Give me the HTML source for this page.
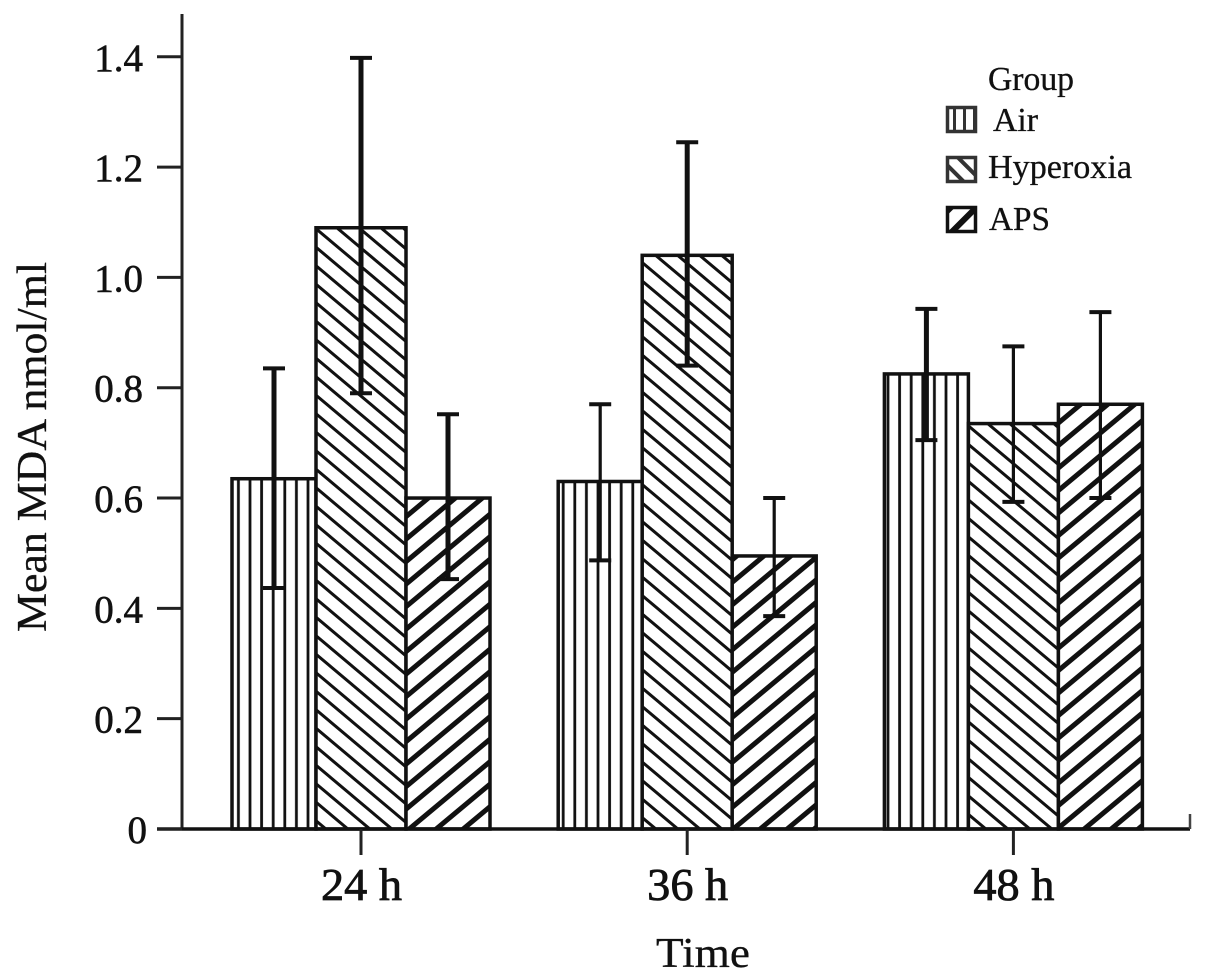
<!DOCTYPE html>
<html lang="en">
<head>
<meta charset="utf-8">
<title>Mean MDA by time and group</title>
<style>
html,body{margin:0;padding:0;background:#fff;width:1205px;height:980px;overflow:hidden}
svg{display:block}
text{font-family:"Liberation Serif",serif;fill:#111}
.tick{font-size:39px;stroke:#111;stroke-width:.6}
.xtick{font-size:46px;stroke:#111;stroke-width:.8}
.title{font-size:42px;stroke:#111;stroke-width:.3}
.leg{font-size:33.5px;stroke:#111;stroke-width:.3}
</style>
</head>
<body>
<svg id="chart" width="1205" height="980" viewBox="0 0 1205 980" xmlns="http://www.w3.org/2000/svg">
  <defs>
    <pattern id="p-air" patternUnits="userSpaceOnUse" width="11.6" height="20" x="232">
      <rect width="11.6" height="20" fill="#fff"/>
      <rect x="5" width="2.8" height="20" fill="#111"/>
    </pattern>
    <pattern id="p-hyp" patternUnits="userSpaceOnUse" width="22" height="18.5">
      <rect width="22" height="18.5" fill="#fff"/>
      <path d="M-22 -18.5L44 37M-22 0L22 37M0 -18.5L44 18.5" stroke="#111" stroke-width="3" fill="none"/>
    </pattern>
    <pattern id="p-aps" patternUnits="userSpaceOnUse" width="27" height="22.5">
      <rect width="27" height="22.5" fill="#fff"/>
      <path d="M-27 45L54 -22.5M-27 22.5L27 -22.5M0 45L54 0" stroke="#111" stroke-width="5" fill="none"/>
    </pattern>
    <pattern id="p-air-leg" patternUnits="userSpaceOnUse" width="10" height="20" x="947">
      <rect width="10" height="20" fill="#fff"/>
      <rect x="6" width="3" height="20" fill="#333"/>
    </pattern>
    <pattern id="p-hyp-leg" patternUnits="userSpaceOnUse" width="13" height="13" patternTransform="rotate(45)">
      <rect width="13" height="13" fill="#fff"/>
      <rect y="4" width="13" height="4" fill="#333"/>
    </pattern>
    <pattern id="p-aps-leg" patternUnits="userSpaceOnUse" width="18" height="18" patternTransform="rotate(-45)">
      <rect width="18" height="18" fill="#fff"/>
      <rect y="6" width="18" height="6" fill="#111"/>
    </pattern>
  </defs>
  <g id="bars"></g>
  <g id="errors"></g>
  <g id="axes"></g>

  <text class="title" x="0" y="0" transform="translate(46,632) rotate(-90)" textLength="370" lengthAdjust="spacingAndGlyphs">Mean MDA nmol/ml</text>
  <text class="title" x="656" y="967" font-size="44" textLength="94" lengthAdjust="spacingAndGlyphs">Time</text>

  <g>
    <text class="leg" x="988" y="90" textLength="86" lengthAdjust="spacingAndGlyphs">Group</text>
    <rect x="947.5" y="107.5" width="28" height="24" fill="url(#p-air-leg)" stroke="#333" stroke-width="3.5"/>
    <text class="leg" x="993" y="131" textLength="45" lengthAdjust="spacingAndGlyphs">Air</text>
    <rect x="947.5" y="157.5" width="28" height="24" fill="url(#p-hyp-leg)" stroke="#333" stroke-width="3.5"/>
    <text class="leg" x="988" y="178" textLength="144" lengthAdjust="spacingAndGlyphs">Hyperoxia</text>
    <rect x="947.5" y="207.5" width="28" height="24" fill="url(#p-aps-leg)" stroke="#111" stroke-width="3.5"/>
    <text class="leg" x="989" y="230" textLength="61" lengthAdjust="spacingAndGlyphs">APS</text>
  </g>
</svg>
<script>
const categories = ['24 h', '36 h', '48 h'];
const seriesNames = ['Air', 'Hyperoxia', 'APS'];
const airValues = [0.635, 0.63, 0.825];
const hyperoxiaValues = [1.09, 1.04, 0.735];
const apsValues = [0.60, 0.495, 0.77];
const airHigh = [0.835, 0.77, 0.943];
const airLow = [0.437, 0.487, 0.705];
const hyperoxiaHigh = [1.398, 1.245, 0.875];
const hyperoxiaLow = [0.79, 0.84, 0.593];
const apsHigh = [0.752, 0.60, 0.937];
const apsLow = [0.453, 0.386, 0.60];
const yTicks = [0, 0.2, 0.4, 0.6, 0.8, 1.0, 1.2, 1.4];
const yTickLabels = ['0', '0.2', '0.4', '0.6', '0.8', '1.0', '1.2', '1.4'];

const seriesValues = [airValues, hyperoxiaValues, apsValues];
const seriesHigh = [airHigh, hyperoxiaHigh, apsHigh];
const seriesLow = [airLow, hyperoxiaLow, apsLow];
const fills = ['url(#p-air)', 'url(#p-hyp)', 'url(#p-aps)'];

function y(v) { return 829 - v * 551.6; }
function xCenter(i) { return 361 + i * 326.2; }
function barLeft(g, s) { return xCenter(g) + [-129, -45, 45][s]; }
function barWidth(s) { return [84, 90, 84][s]; }

const NS = 'http://www.w3.org/2000/svg';
function make(tag, parent, props) {
  const el = document.createElementNS(NS, tag);
  for (const k in props) el.setAttribute(k, props[k]);
  parent.appendChild(el);
  return el;
}
const barsG = document.getElementById('bars');
const errG = document.getElementById('errors');
const axesG = document.getElementById('axes');

categories.forEach(function (cat, g) {
  seriesNames.forEach(function (name, s) {
    const v = seriesValues[s][g];
    const bar = make('rect', barsG, {
      x: barLeft(g, s), y: y(v), width: barWidth(s), height: y(0) - y(v),
      fill: fills[s], stroke: '#111', 'stroke-width': 3.5
    });
    
    
  });
});

categories.forEach(function (cat, g) {
  seriesNames.forEach(function (name, s) {
    const cx = barLeft(g, s) + barWidth(s) / 2;
    const thin = (g === 1 && s !== 1) || (g === 2 && s === 1) || (g === 2 && s === 2);
    const sw = thin ? 3.2 : 5;
    const stem = make('line', errG, {
      x1: cx, x2: cx, y1: y(seriesHigh[s][g]), y2: y(seriesLow[s][g]),
      stroke: '#111', 'stroke-width': sw
    });
    
    
    const capTop = make('line', errG, {
      x1: cx - 11, x2: cx + 11, y1: y(seriesHigh[s][g]), y2: y(seriesHigh[s][g]),
      stroke: '#111', 'stroke-width': 4
    });
    
    
    const capLow = make('line', errG, {
      x1: cx - 11, x2: cx + 11, y1: y(seriesLow[s][g]), y2: y(seriesLow[s][g]),
      stroke: '#111', 'stroke-width': 4
    });
    
    
  });
});

const yAxis = make('line', axesG, { x1: 182, x2: 182, y1: 14, y2: 829, stroke: '#222', 'stroke-width': 3 });


const xAxis = make('line', axesG, { x1: 157, x2: 1190, y1: 829, y2: 829, stroke: '#111', 'stroke-width': 3.5 });


const xEnd = make('line', axesG, { x1: 1190, x2: 1190, y1: 814, y2: 829, stroke: '#444', 'stroke-width': 2.5 });



yTicks.forEach(function (t, i) {
  const tick = make('line', axesG, { x1: 157, x2: 182, y1: y(t), y2: y(t), stroke: '#222', 'stroke-width': 3 });
  
  
  const label = make('text', axesG, { x: t === 0 ? 147 : 143, y: y(t) + 14, 'text-anchor': 'end', class: 'tick' });
  
  
  label.textContent = yTickLabels[i];
});

categories.forEach(function (cat, g) {
  const cx = xCenter(g);
  const tick = make('line', axesG, { x1: cx, x2: cx, y1: 829, y2: 855, stroke: '#222', 'stroke-width': 3 });
  
  
  const label = make('text', axesG, { x: cx - 40, y: 900, class: 'xtick', textLength: 81, lengthAdjust: 'spacingAndGlyphs' });
  
  
  label.textContent = cat;
});
</script>
</body>
</html>
